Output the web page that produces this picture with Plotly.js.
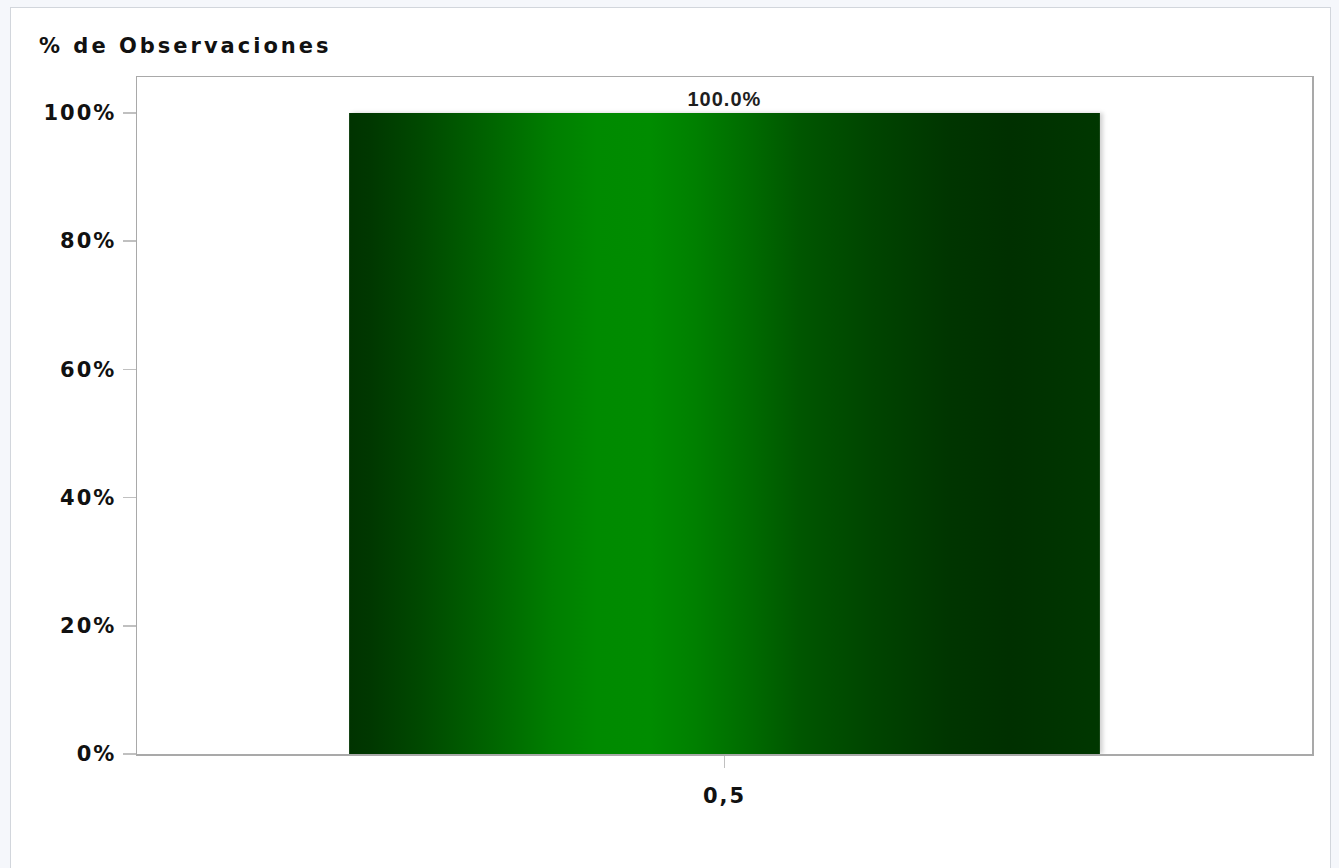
<!DOCTYPE html>
<html>
<head>
<meta charset="utf-8">
<script src="https://cdn.plot.ly/plotly-3.0.1.min.js"></script>
<style>
html,body{margin:0;padding:0;background:#f5f7fb;overflow:hidden;}
#frame{position:absolute;left:10px;top:7px;width:1319px;height:870px;border:1px solid #d2d6dc;background:#fff;}
#chart{width:1319px;height:870px;}
#chart .ytick text, #chart .xtick text{letter-spacing:2px;}
#chart .annotation-text{letter-spacing:3px;}
#chart .bartext{letter-spacing:1px;}
</style>
</head>
<body>
<div id="frame"><div id="chart"></div></div>
<script>
// Data
const categories = ['0,5'];
const percentValues = [100.0];
const yTickValues = [0, 20, 40, 60, 80, 100];
const yTickLabels = ['0%', '20%', '40%', '60%', '80%', '100%'];
const yTitle = '% de Observaciones';

const trace = {
  type: 'bar',
  x: categories,
  y: percentValues,
  marker: {color: '#006000', line: {width: 0}},
  texttemplate: '%{y:.1f}%',
  textposition: 'outside',
  textfont: {family: 'Liberation Sans', size: 20, color: '#1e1e1e', weight: 'bold'},
  cliponaxis: false,
  hoverinfo: 'skip'
};

const layout = {
  width: 1319,
  height: 870,
  margin: {l: 126, r: 18, t: 69, b: 124},
  paper_bgcolor: '#ffffff',
  plot_bgcolor: '#ffffff',
  showlegend: false,
  bargap: 0.361,
  xaxis: {
    type: 'category',
    range: [-0.5, 0.5],
    showline: true, mirror: true, linecolor: '#a9a9a9', linewidth: 1.5,
    showgrid: false, zeroline: false,
    ticks: 'outside', ticklen: 12, tickcolor: '#c0c0c0', tickwidth: 1.5,
    ticklabelstandoff: 10,
    tickfont: {family: 'DejaVu Sans', size: 21, color: '#111', weight: 'bold'}
  },
  yaxis: {
    range: [0, 105.6],
    tickvals: yTickValues,
    ticktext: yTickLabels,
    showline: true, mirror: true, linecolor: '#a9a9a9', linewidth: 1.5,
    showgrid: false, zeroline: false,
    ticks: 'outside', ticklen: 13, tickcolor: '#c0c0c0', tickwidth: 1.5,
    ticklabelstandoff: 2,
    tickfont: {family: 'DejaVu Sans', size: 21, color: '#111', weight: 'bold'}
  },
  annotations: [{
    text: yTitle,
    xref: 'paper', yref: 'paper',
    x: -0.0855, y: 1.0458,
    xanchor: 'left', yanchor: 'middle',
    xshift: 27,
    showarrow: false,
    font: {family: 'DejaVu Sans', size: 21, color: '#111', weight: 'bold'}
  }]
};

Plotly.newPlot('chart', [trace], layout, {displayModeBar: false, staticPlot: true}).then(function(gd){
  const svgNS = 'http://www.w3.org/2000/svg';
  const defs = gd.querySelector('.main-svg defs');
  const grad = document.createElementNS(svgNS, 'linearGradient');
  grad.setAttribute('id', 'barGrad');
  grad.setAttribute('x1', '0'); grad.setAttribute('y1', '0');
  grad.setAttribute('x2', '1'); grad.setAttribute('y2', '0');
  const stops = [
    [0, '#003300'], [0.03, '#003800'], [0.1, '#004a00'], [0.2, '#006800'],
    [0.27, '#007e00'], [0.33, '#008a00'], [0.4, '#008c00'], [0.46, '#008000'],
    [0.53, '#006c00'], [0.6, '#005600'], [0.7, '#004400'], [0.8, '#003500'],
    [0.88, '#003000'], [0.95, '#003400'], [1, '#003700']
  ];
  stops.forEach(function(s){
    const st = document.createElementNS(svgNS, 'stop');
    st.setAttribute('offset', s[0]);
    st.setAttribute('stop-color', s[1]);
    grad.appendChild(st);
  });
  defs.appendChild(grad);
  gd.querySelectorAll('.barlayer .point path').forEach(function(p){
    p.style.fill = 'url(#barGrad)';
    p.style.filter = 'drop-shadow(3px 0px 2px rgba(0,0,0,0.18))';
  });
});
</script>
</body>
</html>
